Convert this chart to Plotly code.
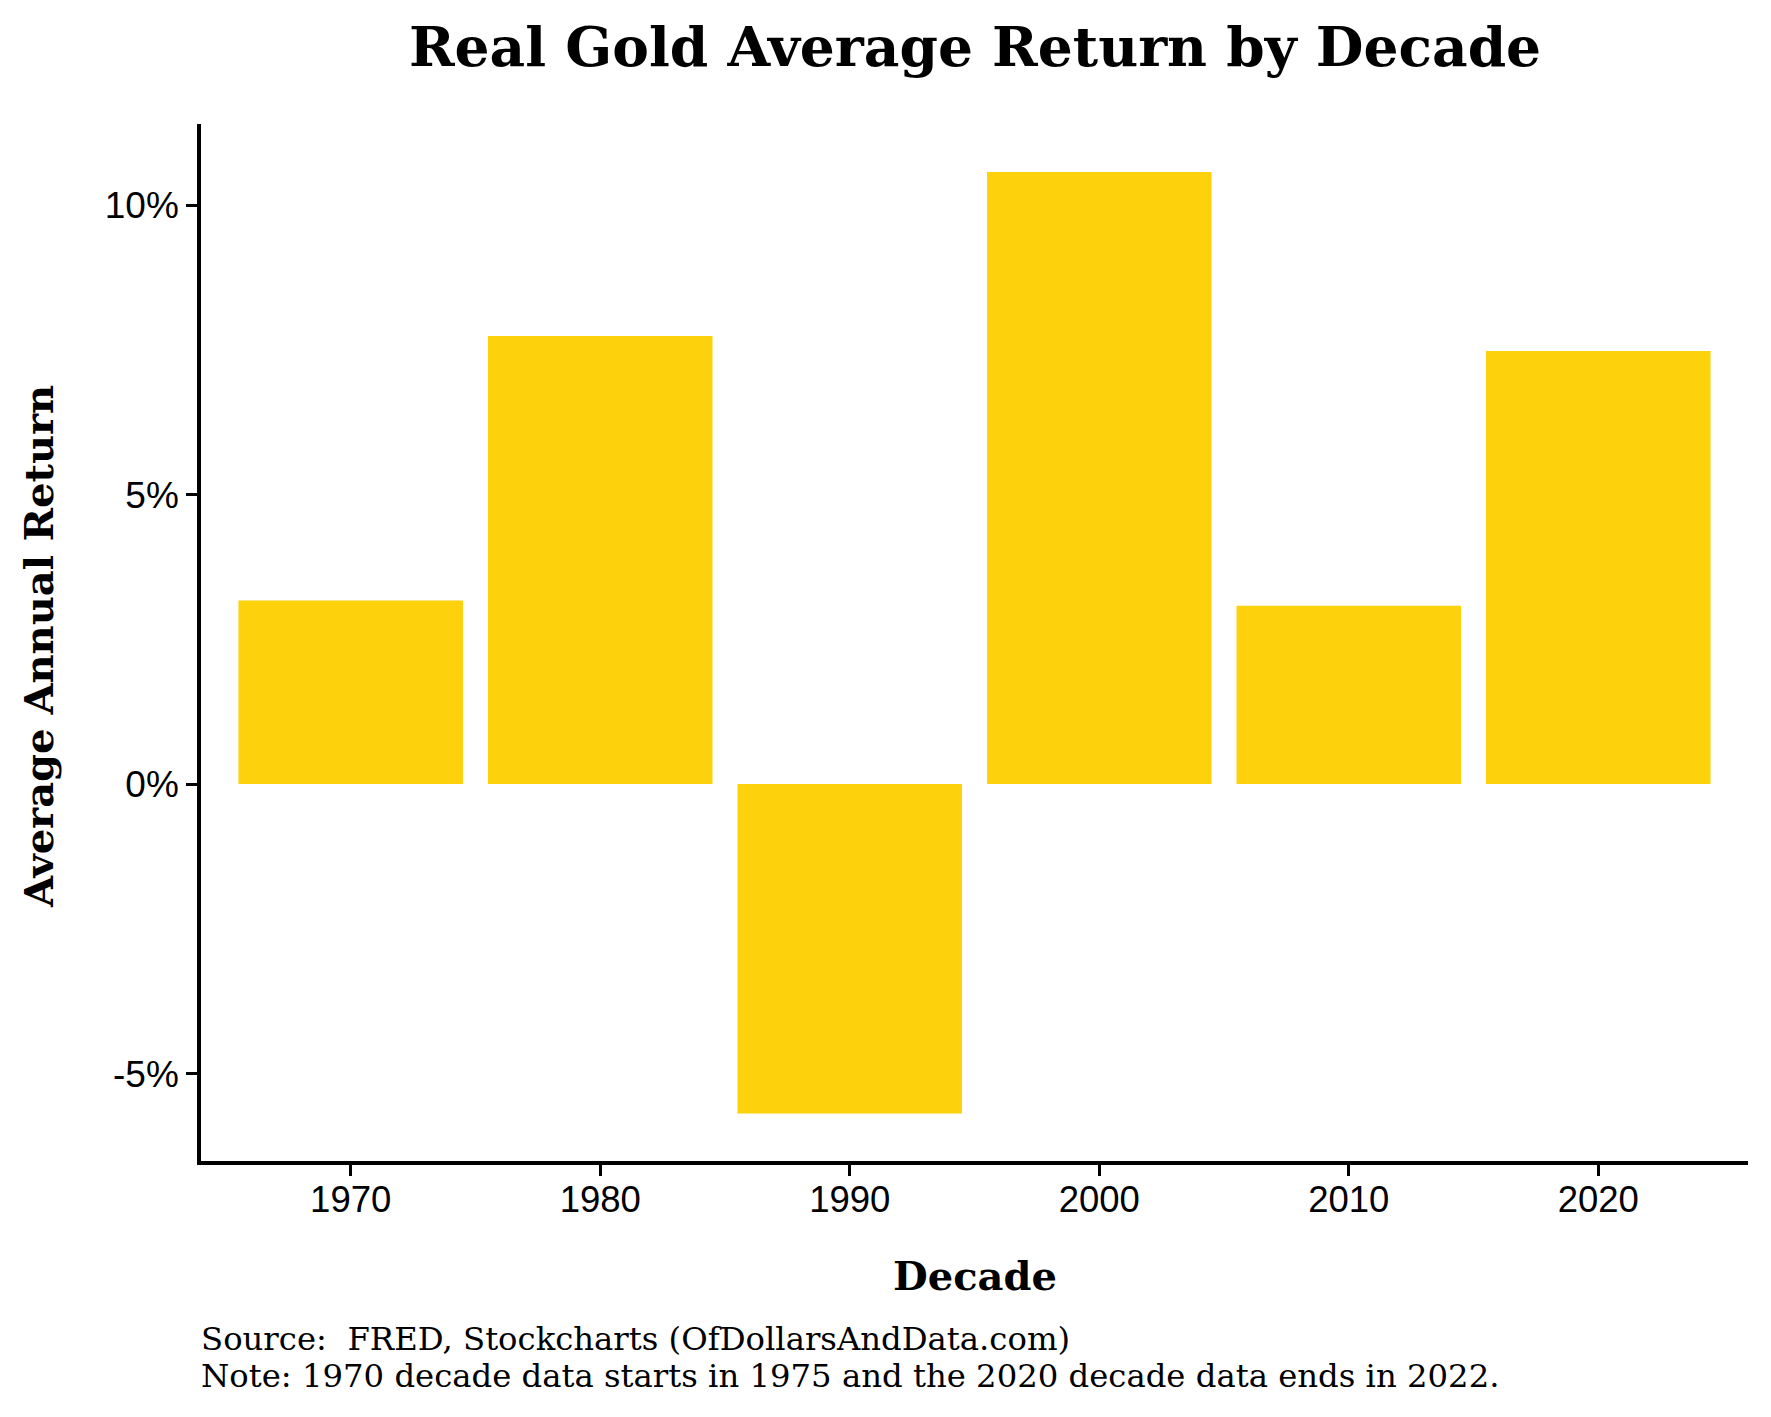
import plotly.graph_objects as go

decades = ["1970", "1980", "1990", "2000", "2010", "2020"]
avg_return = [3.17, 7.74, -5.69, 10.57, 3.08, 7.48]
ytick_vals = [-5, 0, 5, 10]
ytick_text = ["-5%", "0%", "5%", "10%"]

OFF = 8  # default page body margin
PAGE_W, PAGE_H = 1771, 1417
W, H = PAGE_W - OFF, PAGE_H - OFF
L, R, T, B = 201, 1748, 124, 1161  # plot area in page pixels
pw, ph = R - L, B - T

def px_x(px):
    return (px - L) / pw

def px_y(py):
    return (B - py) / ph

serif = "DejaVu Serif"
sans = "Liberation Sans, Arial, sans-serif"

fig = go.Figure(go.Bar(x=decades, y=avg_return, marker=dict(color="#FDD20C", line=dict(width=0)), width=0.9))

fig.update_layout(
    width=W, height=H, autosize=False,
    margin=dict(l=L - OFF, r=PAGE_W - R, t=T - OFF, b=PAGE_H - B, pad=0),
    paper_bgcolor="white", plot_bgcolor="white",
    showlegend=False,
    title=dict(text="<b>Real Gold Average Return by Decade</b>", x=px_x(975), xref="paper", xanchor="center",
               y=1 - (47 - OFF) / H, yref="container", yanchor="middle",
               font=dict(family=serif, size=55, color="black")),
    xaxis=dict(type="category", range=[-0.6, 5.6], showline=True, linecolor="black", linewidth=3.5,
               ticks="outside", ticklen=11, tickwidth=3, tickcolor="black", ticklabelstandoff=-8,
               tickfont=dict(family=sans, size=36.5, color="black"), showgrid=False, zeroline=False),
    yaxis=dict(range=[-6.51, 11.40], tickvals=ytick_vals, ticktext=ytick_text, showline=True,
               linecolor="black", linewidth=3.5, ticks="outside", ticklen=11, tickwidth=3, tickcolor="black",
               tickfont=dict(family=sans, size=37, color="black"), showgrid=False, zeroline=False),
)

fig.add_annotation(text="<b>Decade</b>", xref="paper", yref="paper", x=px_x(975), y=px_y(1275),
                   xanchor="center", yanchor="middle", showarrow=False,
                   font=dict(family=serif, size=40, color="black"))
fig.add_annotation(text="<b>Average Annual Return</b>", xref="paper", yref="paper", x=px_x(38), y=px_y(647),
                   xanchor="center", yanchor="middle", showarrow=False, textangle=-90,
                   font=dict(family=serif, size=40, color="black"))
fig.add_annotation(text="Source:  FRED, Stockcharts (OfDollarsAndData.com)", xref="paper", yref="paper",
                   x=px_x(199), y=px_y(1339), xanchor="left", yanchor="middle", showarrow=False,
                   font=dict(family=serif, size=32.3, color="black"))
fig.add_annotation(text="Note: 1970 decade data starts in 1975 and the 2020 decade data ends in 2022.", xref="paper", yref="paper",
                   x=px_x(199), y=px_y(1376), xanchor="left", yanchor="middle", showarrow=False,
                   font=dict(family=serif, size=32.3, color="black"))

fig.write_html("out.html")
